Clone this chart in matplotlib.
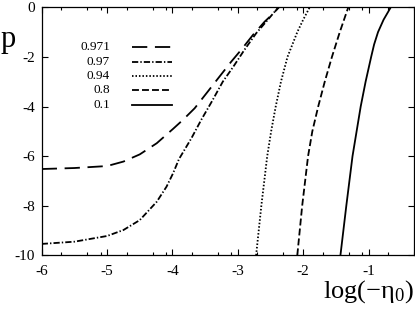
import numpy as np
import matplotlib
matplotlib.use('Agg')
import matplotlib.pyplot as plt
from matplotlib.ticker import FixedLocator

plt.rcParams['font.family'] = ['Liberation Serif', 'DejaVu Serif']
plt.rcParams['mathtext.fontset'] = 'custom'
plt.rcParams['mathtext.rm'] = 'Liberation Serif'
plt.rcParams['mathtext.it'] = 'Liberation Serif:italic'
plt.rcParams['axes.unicode_minus'] = False
plt.rcParams['lines.scale_dashes'] = False

# curves: x = log(-eta0), y = p
labels = ['0.971', '0.97', '0.94', '0.8', '0.1']

x_0971 = [-6.0, -5.5, -5.0, -4.75, -4.5, -4.24, -3.99, -3.84, -3.66, -3.46, -3.30, -3.10, -2.95, -2.77, -2.59, -2.47, -2.37]
p_0971 = [-6.52, -6.48, -6.40, -6.22, -5.93, -5.48, -4.90, -4.54, -4.07, -3.40, -2.86, -2.19, -1.72, -1.12, -0.58, -0.28, 0.0]

x_097 = [-6.0, -5.5, -5.0, -4.75, -4.5, -4.24, -4.09, -3.99, -3.90, -3.71, -3.56, -3.40, -3.23, -3.07, -2.90, -2.72, -2.54, -2.38]
p_097 = [-9.54, -9.45, -9.22, -8.98, -8.58, -7.84, -7.23, -6.69, -6.12, -5.28, -4.54, -3.81, -3.00, -2.40, -1.72, -1.05, -0.50, 0.0]

x_094 = [-2.72, -2.64, -2.55, -2.49, -2.42, -2.34, -2.24, -2.09, -2.00, -1.90]
p_094 = [-10.0, -8.0, -6.0, -5.0, -4.0, -3.0, -2.0, -1.0, -0.5, 0.0]

x_08 = [-2.09, -2.015, -1.925, -1.86, -1.77, -1.67, -1.56, -1.44, -1.31]
p_08 = [-10.0, -8.0, -6.0, -5.0, -4.0, -3.0, -2.0, -1.0, 0.0]

x_01 = [-1.43, -1.34, -1.245, -1.12, -1.045, -0.96, -0.915, -0.855, -0.77, -0.66]
p_01 = [-10.0, -8.0, -6.0, -4.0, -3.0, -2.0, -1.5, -1.0, -0.5, 0.0]

series = [(x_0971, p_0971), (x_097, p_097), (x_094, p_094), (x_08, p_08), (x_01, p_01)]
dash_styles = [(0, (11, 5.5)), (0, (4.5, 1.5, 1.0, 1.5)), (0, (1.1, 1.4)), (0, (5, 2.2)), '-']

fig = plt.figure(figsize=(4.15, 3.11), dpi=100)
ax = fig.add_axes([0.1005, 0.179, 0.8978, 0.7975])

for (xs, ps), ls in zip(series, dash_styles):
    ax.plot(xs, ps, color='black', lw=1.3, linestyle=ls)

ax.set_xlim(-6, -0.3)
ax.set_ylim(-10, 0)
ax.set_xticks([-6, -5, -4, -3, -2, -1])
ax.set_yticks([-10, -8, -6, -4, -2, 0])
minor = [m + np.log10(k) for m in range(-6, 0) for k in (2, 5, 8)]
ax.xaxis.set_minor_locator(FixedLocator([v for v in minor if v < -0.3]))
ax.tick_params(axis='both', which='major', direction='in', length=4.5, width=0.8,
               top=True, right=True, labelsize=11)
ax.tick_params(axis='x', which='major', pad=7)
ax.tick_params(axis='y', which='major', pad=5)
ax.tick_params(axis='x', which='minor', direction='in', length=2.5, width=0.8, top=True)
for s in ax.spines.values():
    s.set_linewidth(0.9)

# hand-drawn legend, labels right aligned
ys = [47, 61.5, 76, 90, 104.5]
for lab, ls, yp in zip(labels, dash_styles, ys):
    ya = 1 - (yp - 7.3) / 248.0
    xa0 = (132 - 41.7) / 372.6
    xa1 = (172 - 41.7) / 372.6
    ax.plot([xa0, xa1], [ya, ya], transform=ax.transAxes, color='black', lw=1.3, linestyle=ls)
    ax.text((110 - 41.7) / 372.6, ya, lab, transform=ax.transAxes, ha='right', va='center', fontsize=9.5)

fig.text(8 / 415, 1 - 40 / 311, 'p', ha='center', va='center', fontsize=22)
fig.text(0.998, 1 - 292 / 311, r'log($-\mathrm{\eta}_0$)', ha='right', va='center', fontsize=19)

fig.savefig('out.png', dpi=100)
